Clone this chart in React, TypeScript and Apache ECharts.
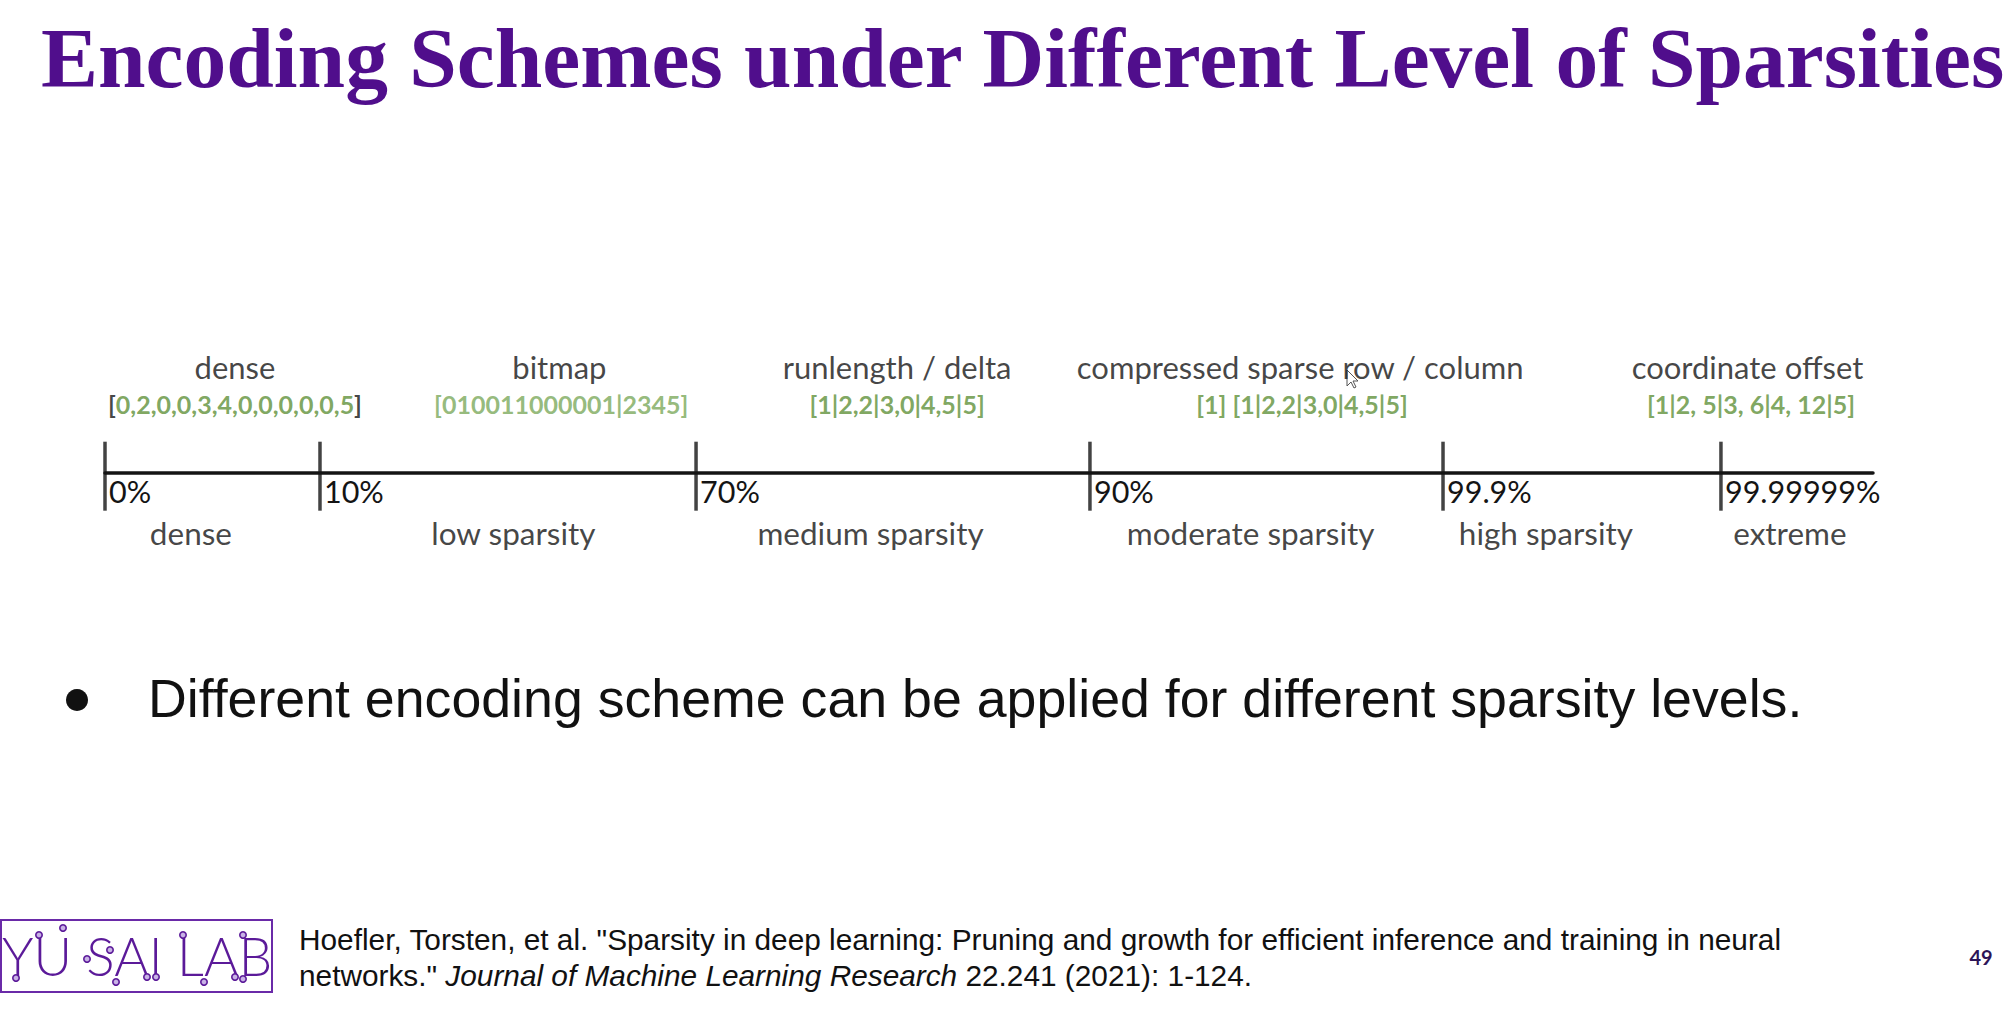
import { useEffect, useRef } from "react";
import * as echarts from "echarts";

// sparsity boundaries along the scale (schematic position 0–100 on the axis)
const BOUNDARY_POS = [0, 12.16, 33.43, 55.71, 75.68, 91.4];
const BOUNDARY_LABELS = ["0%", "10%", "70%", "90%", "99.9%", "99.99999%"];

// encoding schemes shown above the scale
const ENCODING_NAMES = [
  "dense",
  "bitmap",
  "runlength / delta",
  "compressed sparse row / column",
  "coordinate offset",
];
const ENCODING_POS = [7.35, 25.7, 44.8, 67.6, 92.9];
const ENCODING_CODES = [
  "[0,2,0,0,3,4,0,0,0,0,0,5]",
  "[010011000001|2345]",
  "[1|2,2|3,0|4,5|5]",
  "[1] [1|2,2|3,0|4,5|5]",
  "[1|2, 5|3, 6|4, 12|5]",
];
const CODE_POS = [7.35, 25.8, 44.8, 67.7, 93.1];

// sparsity levels shown under the scale
const LEVEL_NAMES = ["dense", "low sparsity", "medium sparsity", "moderate sparsity", "high sparsity", "extreme"];
const LEVEL_POS = [4.86, 23.1, 43.3, 64.8, 81.5, 95.3];

// rows (y) of the text bands, the scale sits at 0
const NAME_ROW = 1.06;
const CODE_ROW = 0.685;
const LEVEL_ROW = -0.6;

const TITLE = "Encoding Schemes under Different Level of Sparsities";
const BULLET = "Different encoding scheme can be applied for different sparsity levels.";
const CITE_1 = 'Hoefler, Torsten, et al. "Sparsity in deep learning: Pruning and growth for efficient inference and training in neural';
const CITE_2A = 'networks." ';
const CITE_2B = "Journal of Machine Learning Research";
const CITE_2C = " 22.241 (2021): 1-124.";

// little circuit nodes on the lab logo
const LOGO_DOTS = [
  [16, 978], [39, 935], [63, 928], [87, 959], [110, 950], [116, 982],
  [147, 977], [156, 977], [183, 935], [204, 982], [235, 977], [243, 935], [243, 979],
];

const INK = "#141414";
const GREEN = "#5e9038";
const GREEN_LIGHT = "#7aa85a";
const PURPLE = "#500e8c";
const LOGO = "#5b1a99";

export default function App() {
  const ref = useRef<HTMLDivElement>(null);

  useEffect(() => {
    if (!ref.current) return;
    const chart = echarts.init(ref.current, undefined, { renderer: "svg" });

    const textLabel = (size: number, weight: string | number = "normal") => ({
      show: true,
      position: "inside" as const,
      fontFamily: "Lato",
      fontSize: size,
      fontWeight: weight,
      color: INK,
    });

    const option: echarts.EChartsOption = {
      animation: false,
      backgroundColor: "#ffffff",
      textStyle: { fontFamily: "Lato" },
      grid: { left: 105, top: 322.7, width: 1768, height: 150 },
      xAxis: {
        type: "value",
        min: 0,
        max: 100,
        axisLine: { show: true, onZero: false, lineStyle: { color: INK, width: 3.5 } },
        axisTick: { show: false },
        splitLine: { show: false },
        axisLabel: {
          customValues: BOUNDARY_POS,
          formatter: (v: number) => BOUNDARY_LABELS[BOUNDARY_POS.indexOf(v)] ?? "",
          align: "left",
          padding: [0, 0, 0, 4],
          margin: 3,
          fontFamily: "Lato",
          fontSize: 30.5,
          color: INK,
        },
      } as any,
      yAxis: { type: "value", min: 0, max: 1.5, show: false },
      series: [
        {
          name: "boundaries",
          type: "scatter",
          silent: true,
          clip: false,
          symbol: "rect",
          symbolSize: [3.5, 69],
          symbolOffset: [0, 3.5],
          itemStyle: { color: INK },
          data: BOUNDARY_POS.map((v) => [v, 0]),
        },
        {
          name: "encoding",
          type: "scatter",
          silent: true,
          clip: false,
          symbolSize: 1,
          itemStyle: { color: "transparent" },
          label: { ...textLabel(31), formatter: (p: any) => ENCODING_NAMES[p.dataIndex] },
          data: ENCODING_POS.map((v) => [v, NAME_ROW]),
        },
        {
          name: "code",
          type: "scatter",
          silent: true,
          clip: false,
          symbolSize: 1,
          itemStyle: { color: "transparent" },
          label: {
            ...textLabel(25, "bold"),
            color: GREEN,
            formatter: (p: any) => {
              const s = ENCODING_CODES[p.dataIndex];
              if (p.dataIndex === 0) return "{k|[}" + s.slice(1, -1) + "{k|]}";
              return s;
            },
            rich: { k: { color: INK, fontFamily: "Lato", fontSize: 25, fontWeight: "bold" } },
          },
          data: CODE_POS.map((v, i) =>
            i === 1 ? { value: [v, CODE_ROW], label: { color: GREEN_LIGHT } } : [v, CODE_ROW]
          ),
        },
        {
          name: "level",
          type: "scatter",
          silent: true,
          clip: false,
          symbolSize: 1,
          itemStyle: { color: "transparent" },
          label: { ...textLabel(31.5), formatter: (p: any) => LEVEL_NAMES[p.dataIndex] },
          data: LEVEL_POS.map((v) => [v, LEVEL_ROW]),
        },
      ],
      graphic: [
        {
          type: "text",
          left: 41,
          y: 58,
          style: {
            text: TITLE,
            fontFamily: "Liberation Serif",
            fontWeight: "bold",
            fontSize: 85.5,
            fill: PURPLE,
            verticalAlign: "middle",
          },
        },
        { type: "circle", shape: { cx: 77, cy: 700, r: 11 }, style: { fill: "#111" } },
        {
          type: "text",
          x: 148,
          y: 698,
          style: {
            text: BULLET,
            fontFamily: "Liberation Sans",
            fontSize: 53.7,
            fill: "#111",
            verticalAlign: "middle",
          },
        },
        {
          type: "rect",
          shape: { x: 1, y: 920, width: 271, height: 72 },
          style: { fill: "none", stroke: "#6a2aa8", lineWidth: 2 },
        },
        {
          type: "text",
          x: 137,
          y: 955,
          style: {
            text: "YU SAI LAB",
            fontFamily: "Lato",
            fontWeight: 300,
            fontSize: 53,
            fill: LOGO,
            align: "center",
            verticalAlign: "middle",
          },
        },
        ...LOGO_DOTS.map(([cx, cy]) => ({
          type: "circle" as const,
          shape: { cx, cy, r: 3.2 },
          style: { fill: "#c9b3e6", stroke: LOGO, lineWidth: 1.6 },
        })),
        {
          type: "text",
          x: 299,
          y: 939,
          style: {
            text: CITE_1,
            fontFamily: "Liberation Sans",
            fontSize: 29.8,
            fill: "#111",
            verticalAlign: "middle",
          },
        },
        {
          type: "text",
          x: 299,
          y: 975,
          style: {
            text: "{n|" + CITE_2A + "}{i|" + CITE_2B + "}{n|" + CITE_2C + "}",
            verticalAlign: "middle",
            rich: {
              n: { fontFamily: "Liberation Sans", fontSize: 29.8, fill: "#111" },
              i: { fontFamily: "Liberation Sans", fontSize: 29.8, fontStyle: "italic", fill: "#111" },
            },
          } as any,
        },
        {
          type: "text",
          x: 1981,
          y: 957,
          style: {
            text: "49",
            fontFamily: "Lato",
            fontWeight: "bold",
            fontSize: 20,
            fill: "#2d1457",
            align: "center",
            verticalAlign: "middle",
          },
        },
        {
          type: "polygon",
          x: 1347,
          y: 370,
          shape: {
            points: [[0, 0], [0, 16], [4, 12], [7, 18], [9, 17], [6, 11], [11, 11]],
          },
          style: { fill: "#ffffff", stroke: "#555", lineWidth: 1 },
        },
      ],
    };

    chart.setOption(option);
    const onResize = () => chart.resize();
    window.addEventListener("resize", onResize);
    return () => {
      window.removeEventListener("resize", onResize);
      chart.dispose();
    };
  }, []);

  return (
    <div
      ref={ref}
      style={{ position: "absolute", left: 0, top: 0, width: 2014, height: 1023, background: "#fff" }}
    />
  );
}
